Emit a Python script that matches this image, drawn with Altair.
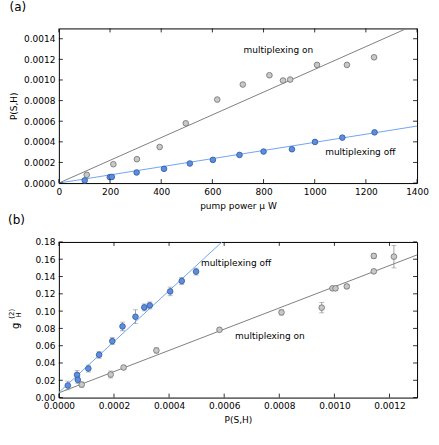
import altair as alt
import pandas as pd

FONT = "DejaVu Sans"

# ---------------- Panel (a) data ----------------
a_on_power = [109, 213, 305, 394, 496, 619, 719, 823, 876, 904, 1009, 1126, 1232]
a_on_p = [0.00008, 0.000183, 0.000232, 0.00035, 0.00058, 0.00081, 0.000956,
          0.001046, 0.000995, 0.001004, 0.001146, 0.001146, 0.00122]
a_off_power = [101, 199, 207, 304, 411, 512, 602, 706, 800, 911, 1001, 1108, 1234]
a_off_p = [0.000026, 0.000058, 0.00006, 0.000103, 0.000138, 0.00019, 0.000225,
           0.000273, 0.000306, 0.000328, 0.000399, 0.000441, 0.000492]
a_on_fit_x = [0, 1360]
a_on_fit_y = [0, 0.0015]
a_off_fit_x = [0, 1400]
a_off_fit_y = [0, 0.000553]
a_xticks = [0, 200, 400, 600, 800, 1000, 1200, 1400]
a_yticks = [0.0, 0.0002, 0.0004, 0.0006, 0.0008, 0.0010, 0.0012, 0.0014]
a_labels = ["multiplexing on", "multiplexing off"]
a_label_x = [858, 1178]
a_label_y = [0.001294, 0.000299]

# ---------------- Panel (b) data ----------------
b_off_p = [0.0000325, 0.000066, 0.0000687, 0.000107, 0.000146, 0.000194, 0.000231,
           0.000278, 0.00031, 0.00033, 0.000404, 0.000446, 0.000498]
b_off_g = [0.014, 0.0263, 0.0205, 0.0336, 0.0495, 0.0653, 0.0823,
           0.0935, 0.1043, 0.1066, 0.1228, 0.1349, 0.1457]
b_off_err = [0.005, 0.005, 0.004, 0.004, 0.004, 0.004, 0.005,
             0.008, 0.004, 0.004, 0.005, 0.004, 0.004]
b_on_p = [0.000083, 0.000188, 0.000235, 0.000354, 0.000583, 0.000808, 0.000954,
          0.000993, 0.001004, 0.001045, 0.001143, 0.001143, 0.001216]
b_on_g = [0.015, 0.0267, 0.0348, 0.0545, 0.0784, 0.0985, 0.104,
          0.1263, 0.1263, 0.1286, 0.1638, 0.146, 0.163]
b_on_err = [0.003, 0.004, 0.002, 0.003, 0.002, 0.003, 0.006,
            0.002, 0.002, 0.002, 0.003, 0.002, 0.013]
b_off_fit_x = [0, 0.000592]
b_off_fit_y = [0.006, 0.18]
b_on_fit_x = [0, 0.0013]
b_on_fit_y = [0.0055, 0.165]
b_xticks = [0.0, 0.0002, 0.0004, 0.0006, 0.0008, 0.0010, 0.0012]
b_yticks = [0.0, 0.02, 0.04, 0.06, 0.08, 0.10, 0.12, 0.14, 0.16, 0.18]
b_labels = ["multiplexing off", "multiplexing on"]
b_label_x = [0.000643, 0.000766]
b_label_y = [0.156, 0.0707]

W = 359
HA = 155
HB = 156

GRAY_FILL = "#c8c8c8"
GRAY_EDGE = "#6e6e6e"
BLUE_FILL = "#5b8ee0"
BLUE_EDGE = "#34589a"
GRAY_LINE = "#808080"
BLUE_LINE = "#6fa6f2"

# ---------------- scales / axes ----------------
xa = alt.Scale(domain=[0, 1400], nice=False, zero=False)
ya = alt.Scale(domain=[0, 0.0015], nice=False, zero=False)
xa_axis = alt.Axis(values=a_xticks, format="d", title="pump power \u03bc W")
ya_axis = alt.Axis(values=a_yticks, format=".4f", title="P(S,H)")

xb = alt.Scale(domain=[0, 0.0013], nice=False, zero=False)
yb = alt.Scale(domain=[0, 0.18], nice=False, zero=False)
xb_axis = alt.Axis(values=b_xticks, format=".4f", title="P(S,H)")
yb_axis = alt.Axis(values=b_yticks, format=".2f", title=None)


def X(field, s, a):
    return alt.X(field, scale=s, axis=a)


def Y(field, s, a):
    return alt.Y(field, scale=s, axis=a)


def inner_ticks(xticks, yticks, xs, xax, ys, yax, h, length=4):
    dx = pd.DataFrame({"v": xticks})
    dy = pd.DataFrame({"v": yticks})
    st = dict(color="black", strokeWidth=0.8)
    bottom = alt.Chart(dx).mark_rule(**st).encode(
        x=X("v:Q", xs, xax), y=alt.value(h), y2=alt.value(h - length))
    top = alt.Chart(dx).mark_rule(**st).encode(
        x=X("v:Q", xs, xax), y=alt.value(0), y2=alt.value(length))
    left = alt.Chart(dy).mark_rule(**st).encode(
        y=Y("v:Q", ys, yax), x=alt.value(0), x2=alt.value(length))
    right = alt.Chart(dy).mark_rule(**st).encode(
        y=Y("v:Q", ys, yax), x=alt.value(W - length), x2=alt.value(W))
    return [bottom, top, left, right]


# ---------------- Panel (a) ----------------
a_on = pd.DataFrame({"x": a_on_power, "y": a_on_p})
a_off = pd.DataFrame({"x": a_off_power, "y": a_off_p})
a_on_fit = pd.DataFrame({"x": a_on_fit_x, "y": a_on_fit_y})
a_off_fit = pd.DataFrame({"x": a_off_fit_x, "y": a_off_fit_y})
a_lab = pd.DataFrame({"x": a_label_x, "y": a_label_y, "t": a_labels})

ax_ = lambda: X("x:Q", xa, xa_axis)
ay_ = lambda: Y("y:Q", ya, ya_axis)

a_line_on = alt.Chart(a_on_fit).mark_line(color=GRAY_LINE, strokeWidth=1, clip=True).encode(
    x=ax_(), y=ay_())
a_line_off = alt.Chart(a_off_fit).mark_line(color=BLUE_LINE, strokeWidth=1, clip=True).encode(
    x=ax_(), y=ay_())
a_pts_on = alt.Chart(a_on).mark_circle(size=32, color=GRAY_FILL, opacity=1,
                                        stroke=GRAY_EDGE, strokeWidth=0.8).encode(
    x=ax_(), y=ay_())
a_pts_off = alt.Chart(a_off).mark_circle(size=32, color=BLUE_FILL, opacity=1,
                                          stroke=BLUE_EDGE, strokeWidth=0.8).encode(
    x=ax_(), y=ay_())
a_text = alt.Chart(a_lab).mark_text(font=FONT, fontSize=9, color="black",
                                    align="center", baseline="middle").encode(
    x=ax_(), y=ay_(), text="t:N")

panel_a = alt.layer(
    a_line_on, a_line_off, a_pts_on, a_pts_off, a_text,
    *inner_ticks(a_xticks, a_yticks, xa, xa_axis, ya, ya_axis, HA)
).properties(
    width=W, height=HA,
    title=alt.TitleParams("(a)", anchor="start", frame="bounds", fontSize=12,
                          fontWeight="normal", font=FONT, offset=14, color="black")
)

# ---------------- Panel (b) ----------------
b_off = pd.DataFrame({"x": b_off_p, "y": b_off_g, "e": b_off_err})
b_off["lo"] = b_off["y"] - b_off["e"]
b_off["hi"] = b_off["y"] + b_off["e"]
b_on = pd.DataFrame({"x": b_on_p, "y": b_on_g, "e": b_on_err})
b_on["lo"] = b_on["y"] - b_on["e"]
b_on["hi"] = b_on["y"] + b_on["e"]
b_off_fit = pd.DataFrame({"x": b_off_fit_x, "y": b_off_fit_y})
b_on_fit = pd.DataFrame({"x": b_on_fit_x, "y": b_on_fit_y})
b_lab = pd.DataFrame({"x": b_label_x, "y": b_label_y, "t": b_labels})

bx_ = lambda: X("x:Q", xb, xb_axis)
by_ = lambda f="y:Q": Y(f, yb, yb_axis)

ERR = "#8a8a8a"


def errbars(df):
    bar = alt.Chart(df).mark_rule(color=ERR, strokeWidth=0.8).encode(
        x=bx_(), y=by_("lo:Q"), y2="hi:Q")
    cap_lo = alt.Chart(df).mark_tick(color=ERR, orient="horizontal", size=5,
                                     thickness=0.8).encode(x=bx_(), y=by_("lo:Q"))
    cap_hi = alt.Chart(df).mark_tick(color=ERR, orient="horizontal", size=5,
                                     thickness=0.8).encode(x=bx_(), y=by_("hi:Q"))
    return [bar, cap_lo, cap_hi]


b_line_on = alt.Chart(b_on_fit).mark_line(color=GRAY_LINE, strokeWidth=1, clip=True).encode(
    x=bx_(), y=by_())
b_line_off = alt.Chart(b_off_fit).mark_line(color=BLUE_LINE, strokeWidth=1, clip=True).encode(
    x=bx_(), y=by_())
b_pts_on = alt.Chart(b_on).mark_circle(size=32, color=GRAY_FILL, opacity=1,
                                        stroke=GRAY_EDGE, strokeWidth=0.8).encode(
    x=bx_(), y=by_())
b_pts_off = alt.Chart(b_off).mark_circle(size=32, color=BLUE_FILL, opacity=1,
                                          stroke=BLUE_EDGE, strokeWidth=0.8).encode(
    x=bx_(), y=by_())
b_text = alt.Chart(b_lab).mark_text(font=FONT, fontSize=9, color="black",
                                    align="center", baseline="middle").encode(
    x=bx_(), y=by_(), text="t:N")

# y-axis title g_H^(2) composed of text pieces
ytitle_df = pd.DataFrame({"t": ["g", "(2)", "H"],
                          "px": [-43, -47, -40],
                          "py": [HB / 2 + 6, HB / 2 - 6, HB / 2 - 5],
                          "fs": [10, 7, 7]})
b_ytitle = alt.Chart(ytitle_df).mark_text(font=FONT, color="black", angle=270,
                                          align="center", baseline="middle").encode(
    x=alt.X("px:Q", scale=None), y=alt.Y("py:Q", scale=None), text="t:N",
    size=alt.Size("fs:Q", scale=None, legend=None))

panel_b = alt.layer(
    b_line_on, b_line_off,
    *errbars(b_on), *errbars(b_off),
    b_pts_on, b_pts_off, b_text, b_ytitle,
    *inner_ticks(b_xticks, b_yticks, xb, xb_axis, yb, yb_axis, HB)
).properties(
    width=W, height=HB,
    title=alt.TitleParams("(b)", anchor="start", frame="bounds", fontSize=12,
                          fontWeight="normal", font=FONT, offset=11, color="black")
)

chart = alt.vconcat(panel_a, panel_b, spacing=2).properties(
    padding={"left": 7, "top": 0, "right": 10, "bottom": 5},
    background="white"
).configure_axis(
    labelFont=FONT, labelFontSize=9, titleFont=FONT, titleFontSize=9,
    titleFontWeight="normal", labelColor="black", titleColor="black",
    ticks=False, domain=False, grid=False, labelPadding=4, titlePadding=5,
    labelOverlap=False, labelFlush=False
).configure_view(
    stroke="black", strokeWidth=1
)

chart.save("out.html", embed_options={"renderer": "svg", "actions": False})
